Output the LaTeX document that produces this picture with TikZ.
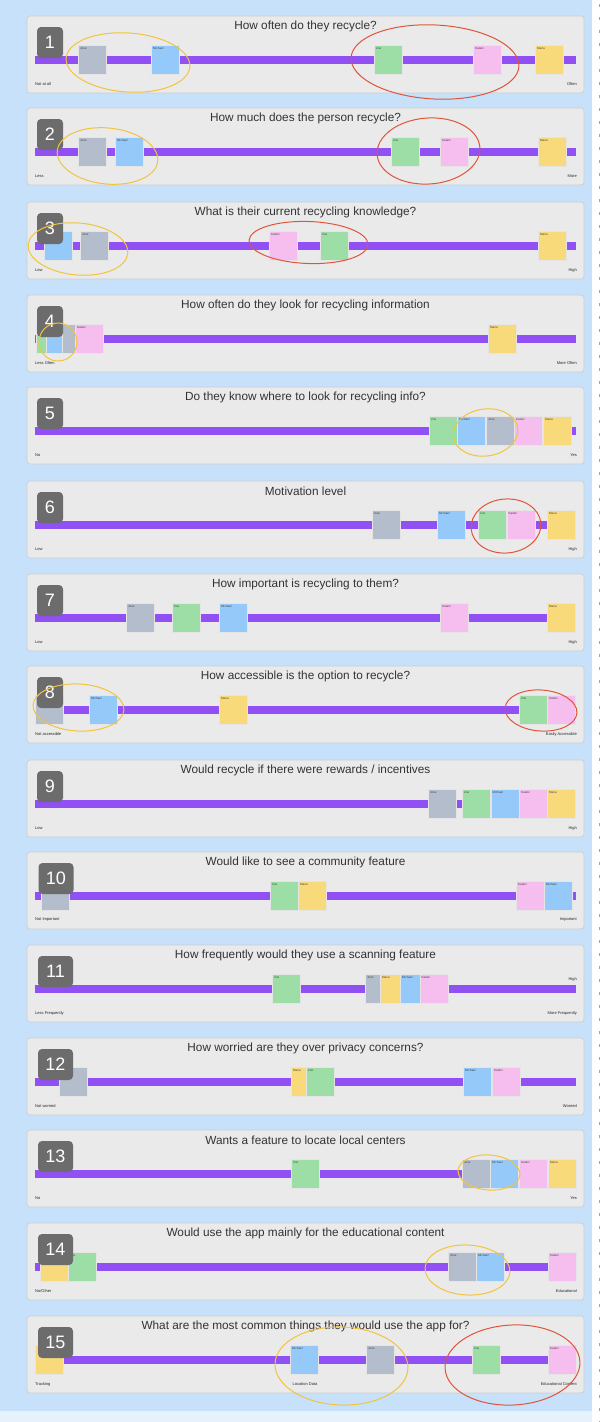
\documentclass[tikz,border=0pt]{standalone}
\usepackage{fontspec}
\setmainfont{Liberation Sans}
\usepackage{tikz}
\usetikzlibrary{shapes.geometric}

\definecolor{bgblue}{HTML}{C6E1F9}
\definecolor{panelgray}{HTML}{EAEAEA}
\definecolor{panelline}{HTML}{C9CCD1}
\definecolor{titlegray}{HTML}{333333}
\definecolor{badgegray}{HTML}{6C6C6C}
\definecolor{barpurple}{HTML}{9150F3}
\definecolor{ngray}{HTML}{B4BDCC}
\definecolor{nblue}{HTML}{94C9FA}
\definecolor{ngreen}{HTML}{9DDEA6}
\definecolor{npink}{HTML}{F5BEEE}
\definecolor{nyellow}{HTML}{F8DA7A}
\definecolor{ringyellow}{HTML}{F2C43C}
\definecolor{ringred}{HTML}{E0553A}

\newcommand{\notefont}{\fontsize{3}{3.5}\selectfont}
\newcommand{\axisfont}{\fontsize{4}{4.5}\selectfont}

\begin{document}
\begin{tikzpicture}[
  x=1pt, y=-1pt,
  panelbox/.style={draw=panelline, fill=panelgray, rounded corners=3pt,
                   minimum width=557pt, minimum height=77pt, inner sep=0pt, line width=0.6pt},
  qtitle/.style={font=\fontsize{11.8}{13}\selectfont, text=titlegray, inner sep=0pt},
  scalebar/.style={fill=barpurple, minimum width=541pt, minimum height=8pt, inner sep=0pt},
  badge/.style={fill=badgegray, rounded corners=4pt, minimum width=26pt, minimum height=31pt,
                inner sep=0pt, text=white, font=\fontsize{18}{18}\selectfont},
  wide/.style={minimum width=35pt},
  note/.style={minimum width=28pt, minimum height=29pt, inner sep=0pt, anchor=west,
               draw=black!10, line width=0.2pt},
  named/.style={label={[anchor=north west, inner sep=2pt, font=\notefont, text=black!75]north west:#1}},
  endlabel/.style={font=\axisfont, text=black!85, inner sep=0pt},
  yring/.style={ellipse, draw=ringyellow, line width=1pt, inner sep=0pt},
  rring/.style={ellipse, draw=ringred, line width=1pt, inner sep=0pt}
]
  \useasboundingbox (0,0) rectangle (606,1422);
  % canvas
  \fill[bgblue] (0,0) rectangle (606,1422);
  \fill[white] (592,0) rectangle (606,1422);
  \draw[black!35, line width=0.5pt, dash pattern=on 3pt off 10pt] (599,4) -- (599,1422);
  \fill[bgblue!45!white] (0,1411) rectangle (592,1422);

  % 1
  \begin{scope}[shift={(0,16)}]
    \node[panelbox] (q1) at (305.5,38.5) {};
    \node[qtitle] (q1t) at (305.5,10) {How often do they recycle?};
    \node[scalebar] (q1bar) at (305.5,44) {};
    \node[note, named=Jose, fill=ngray] (q1jose) at (78,44) {};
    \node[note, named=Michael, fill=nblue] (q1michael) at (151,44) {};
    \node[note, named=Zoe, fill=ngreen] (q1zoe) at (374,44) {};
    \node[note, named=Kalani, fill=npink] (q1kalani) at (473,44) {};
    \node[note, named=Maria, fill=nyellow] (q1maria) at (535,44) {};
    \node[badge] (q1n) at (50,26.5) {1};
    \node[endlabel, anchor=west] (q1lo) at (35,68) {Not at all};
    \node[endlabel, anchor=east] (q1hi) at (577,68) {Often};
    \node[yring, minimum width=124pt, minimum height=59pt, rotate=-4] (q1y) at (128,46.5) {};
    \node[rring, minimum width=168pt, minimum height=74pt, rotate=-3] (q1r) at (435,46) {};
  \end{scope}

  % 2
  \begin{scope}[shift={(0,108)}]
    \node[panelbox] (q2) at (305.5,38.5) {};
    \node[qtitle] (q2t) at (305.5,10) {How much does the person recycle?};
    \node[scalebar] (q2bar) at (305.5,44) {};
    \node[note, named=Jose, fill=ngray] (q2jose) at (78,44) {};
    \node[note, named=Michael, fill=nblue] (q2michael) at (115,44) {};
    \node[note, named=Zoe, fill=ngreen] (q2zoe) at (391,44) {};
    \node[note, named=Kalani, fill=npink] (q2kalani) at (440,44) {};
    \node[note, named=Maria, fill=nyellow] (q2maria) at (538,44) {};
    \node[badge] (q2n) at (50,26.5) {2};
    \node[endlabel, anchor=west] (q2lo) at (35,68) {Less};
    \node[endlabel, anchor=east] (q2hi) at (577,68) {More};
    \node[yring, minimum width=101pt, minimum height=56pt, rotate=-6] (q2y) at (107.5,48) {};
    \node[rring, minimum width=103pt, minimum height=66pt, rotate=4] (q2r) at (428.5,43) {};
  \end{scope}

  % 3
  \begin{scope}[shift={(0,202)}]
    \node[panelbox] (q3) at (305.5,38.5) {};
    \node[qtitle] (q3t) at (305.5,10) {What is their current recycling knowledge?};
    \node[scalebar] (q3bar) at (305.5,44) {};
    \node[note, fill=nblue] (q3michael) at (44,44) {};
    \node[note, named=Jose, fill=ngray] (q3jose) at (80,44) {};
    \node[note, named=Kalani, fill=npink] (q3kalani) at (269,44) {};
    \node[note, named=Zoe, fill=ngreen] (q3zoe) at (320,44) {};
    \node[note, named=Maria, fill=nyellow] (q3maria) at (538,44) {};
    \node[badge] (q3n) at (50,26.5) {3};
    \node[endlabel, anchor=west] (q3lo) at (35,68) {Low};
    \node[endlabel, anchor=east] (q3hi) at (577,68) {High};
    \node[yring, minimum width=100pt, minimum height=52pt, rotate=-5] (q3y) at (78,47) {};
    \node[rring, minimum width=119pt, minimum height=42pt, rotate=-2] (q3r) at (308.5,40.5) {};
  \end{scope}

  % 4
  \begin{scope}[shift={(0,295)}]
    \node[panelbox] (q4) at (305.5,38.5) {};
    \node[qtitle] (q4t) at (305.5,10) {How often do they look for recycling information};
    \node[scalebar] (q4bar) at (305.5,44) {};
    \node[note, fill=ngreen] (q4zoe) at (36,44) {};
    \node[note, fill=nblue] (q4michael) at (46,44) {};
    \node[note, fill=ngray] (q4jose) at (62,44) {};
    \node[note, named=Kalani, fill=npink] (q4kalani) at (75,44) {};
    \node[note, named=Maria, fill=nyellow] (q4maria) at (488,44) {};
    \node[badge] (q4n) at (50,26.5) {4};
    \node[endlabel, anchor=west] (q4lo) at (35,68) {Less Often};
    \node[endlabel, anchor=east] (q4hi) at (577,68) {More Often};
    \node[yring, minimum width=38pt, minimum height=38pt] (q4y) at (58,47) {};
  \end{scope}

  % 5
  \begin{scope}[shift={(0,387)}]
    \node[panelbox] (q5) at (305.5,38.5) {};
    \node[qtitle] (q5t) at (305.5,10) {Do they know where to look for recycling info?};
    \node[scalebar] (q5bar) at (305.5,44) {};
    \node[note, named=Zoe, fill=ngreen] (q5zoe) at (429,44) {};
    \node[note, named=Michael, fill=nblue] (q5michael) at (457,44) {};
    \node[note, named=Jose, fill=ngray] (q5jose) at (486,44) {};
    \node[note, named=Kalani, fill=npink] (q5kalani) at (514,44) {};
    \node[note, named=Maria, fill=nyellow] (q5maria) at (543,44) {};
    \node[badge] (q5n) at (50,26.5) {5};
    \node[endlabel, anchor=west] (q5lo) at (35,68) {No};
    \node[endlabel, anchor=east] (q5hi) at (577,68) {Yes};
    \node[yring, minimum width=65pt, minimum height=47pt, rotate=8] (q5y) at (485.5,45.5) {};
  \end{scope}

  % 6
  \begin{scope}[shift={(0,481)}]
    \node[panelbox] (q6) at (305.5,38.5) {};
    \node[qtitle] (q6t) at (305.5,10) {Motivation level};
    \node[scalebar] (q6bar) at (305.5,44) {};
    \node[note, named=Jose, fill=ngray] (q6jose) at (371.5,44) {};
    \node[note, named=Michael, fill=nblue] (q6michael) at (437,44) {};
    \node[note, named=Zoe, fill=ngreen] (q6zoe) at (478,44) {};
    \node[note, named=Kalani, fill=npink] (q6kalani) at (506.5,44) {};
    \node[note, named=Maria, fill=nyellow] (q6maria) at (547,44) {};
    \node[badge] (q6n) at (50,26.5) {6};
    \node[endlabel, anchor=west] (q6lo) at (35,68) {Low};
    \node[endlabel, anchor=east] (q6hi) at (577,68) {High};
    \node[rring, minimum width=70pt, minimum height=54pt, rotate=5] (q6r) at (506,45) {};
  \end{scope}

  % 7
  \begin{scope}[shift={(0,574)}]
    \node[panelbox] (q7) at (305.5,38.5) {};
    \node[qtitle] (q7t) at (305.5,10) {How important is recycling to them?};
    \node[scalebar] (q7bar) at (305.5,44) {};
    \node[note, named=Jose, fill=ngray] (q7jose) at (126,44) {};
    \node[note, named=Zoe, fill=ngreen] (q7zoe) at (172,44) {};
    \node[note, named=Michael, fill=nblue] (q7michael) at (219,44) {};
    \node[note, named=Kalani, fill=npink] (q7kalani) at (440,44) {};
    \node[note, named=Maria, fill=nyellow] (q7maria) at (547,44) {};
    \node[badge] (q7n) at (50,26.5) {7};
    \node[endlabel, anchor=west] (q7lo) at (35,68) {Low};
    \node[endlabel, anchor=east] (q7hi) at (577,68) {High};
  \end{scope}

  % 8
  \begin{scope}[shift={(0,666)}]
    \node[panelbox] (q8) at (305.5,38.5) {};
    \node[qtitle] (q8t) at (305.5,10) {How accessible is the option to recycle?};
    \node[scalebar] (q8bar) at (305.5,44) {};
    \node[note, fill=ngray] (q8jose) at (35,44) {};
    \node[note, named=Michael, fill=nblue] (q8michael) at (89,44) {};
    \node[note, named=Maria, fill=nyellow] (q8maria) at (219,44) {};
    \node[note, named=Zoe, fill=ngreen] (q8zoe) at (519,44) {};
    \node[note, named=Kalani, fill=npink] (q8kalani) at (547,44) {};
    \node[badge] (q8n) at (50,26.5) {8};
    \node[endlabel, anchor=west] (q8lo) at (35,68) {Not accessible};
    \node[endlabel, anchor=east] (q8hi) at (577,68) {Easily Accessible};
    \node[yring, minimum width=91pt, minimum height=47pt, rotate=-3] (q8y) at (78.5,41.5) {};
    \node[rring, minimum width=72pt, minimum height=41pt, rotate=-4] (q8r) at (541,44.5) {};
  \end{scope}

  % 9
  \begin{scope}[shift={(0,760)}]
    \node[panelbox] (q9) at (305.5,38.5) {};
    \node[qtitle] (q9t) at (305.5,10) {Would recycle if there were rewards / incentives};
    \node[scalebar] (q9bar) at (305.5,44) {};
    \node[note, named=Jose, fill=ngray] (q9jose) at (428,44) {};
    \node[note, named=Zoe, fill=ngreen] (q9zoe) at (462,44) {};
    \node[note, named=Michael, fill=nblue] (q9michael) at (490.5,44) {};
    \node[note, named=Kalani, fill=npink] (q9kalani) at (519,44) {};
    \node[note, named=Maria, fill=nyellow] (q9maria) at (547,44) {};
    \node[badge] (q9n) at (50,26.5) {9};
    \node[endlabel, anchor=west] (q9lo) at (35,68) {Low};
    \node[endlabel, anchor=east] (q9hi) at (577,68) {High};
  \end{scope}

  % 10
  \begin{scope}[shift={(0,852)}]
    \node[panelbox] (q10) at (305.5,38.5) {};
    \node[qtitle] (q10t) at (305.5,10) {Would like to see a community feature};
    \node[scalebar] (q10bar) at (305.5,44) {};
    \node[note, fill=ngray] (q10jose) at (41,44) {};
    \node[note, named=Zoe, fill=ngreen] (q10zoe) at (270,44) {};
    \node[note, named=Maria, fill=nyellow] (q10maria) at (298,44) {};
    \node[note, named=Kalani, fill=npink] (q10kalani) at (516,44) {};
    \node[note, named=Michael, fill=nblue] (q10michael) at (544,44) {};
    \node[badge, wide] (q10n) at (56,26.5) {10};
    \node[endlabel, anchor=west] (q10lo) at (35,68) {Not Important};
    \node[endlabel, anchor=east] (q10hi) at (577,68) {Important};
  \end{scope}

  % 11
  \begin{scope}[shift={(0,945)}]
    \node[panelbox] (q11) at (305.5,38.5) {};
    \node[qtitle] (q11t) at (305.5,10) {How frequently would they use a scanning feature};
    \node[scalebar] (q11bar) at (305.5,44) {};
    \node[note, named=Zoe, fill=ngreen] (q11zoe) at (272,44) {};
    \node[note, named=Jose, fill=ngray] (q11jose) at (365,44) {};
    \node[note, named=Maria, fill=nyellow] (q11maria) at (380,44) {};
    \node[note, named=Michael, fill=nblue] (q11michael) at (400,44) {};
    \node[note, named=Kalani, fill=npink] (q11kalani) at (419.5,44) {};
    \node[badge, wide] (q11n) at (55.5,26.5) {11};
    \node[endlabel, anchor=east] (q11top) at (577,34.5) {High};
    \node[endlabel, anchor=west] (q11lo) at (35,68) {Less Frequently};
    \node[endlabel, anchor=east] (q11hi) at (577,68) {More Frequently};
  \end{scope}

  % 12
  \begin{scope}[shift={(0,1038)}]
    \node[panelbox] (q12) at (305.5,38.5) {};
    \node[qtitle] (q12t) at (305.5,10) {How worried are they over privacy concerns?};
    \node[scalebar] (q12bar) at (305.5,44) {};
    \node[note, fill=ngray] (q12jose) at (59,44) {};
    \node[note, named=Maria, fill=nyellow] (q12maria) at (291,44) {};
    \node[note, named=Zoe, fill=ngreen] (q12zoe) at (306,44) {};
    \node[note, named=Michael, fill=nblue] (q12michael) at (463,44) {};
    \node[note, named=Kalani, fill=npink] (q12kalani) at (492,44) {};
    \node[badge, wide] (q12n) at (55.5,26.5) {12};
    \node[endlabel, anchor=west] (q12lo) at (35,68) {Not worried};
    \node[endlabel, anchor=east] (q12hi) at (577,68) {Worried};
  \end{scope}

  % 13
  \begin{scope}[shift={(0,1130)}]
    \node[panelbox] (q13) at (305.5,38.5) {};
    \node[qtitle] (q13t) at (305.5,10) {Wants a feature to locate local centers};
    \node[scalebar] (q13bar) at (305.5,44) {};
    \node[note, named=Zoe, fill=ngreen] (q13zoe) at (291,44) {};
    \node[note, named=Jose, fill=ngray] (q13jose) at (462,44) {};
    \node[note, named=Michael, fill=nblue] (q13michael) at (490,44) {};
    \node[note, named=Kalani, fill=npink] (q13kalani) at (519,44) {};
    \node[note, named=Maria, fill=nyellow] (q13maria) at (548,44) {};
    \node[badge, wide] (q13n) at (55.5,26.5) {13};
    \node[endlabel, anchor=west] (q13lo) at (35,68) {No};
    \node[endlabel, anchor=east] (q13hi) at (577,68) {Yes};
    \node[yring, minimum width=62pt, minimum height=35pt, rotate=-4] (q13y) at (489,42.5) {};
  \end{scope}

  % 14
  \begin{scope}[shift={(0,1223)}]
    \node[panelbox] (q14) at (305.5,38.5) {};
    \node[qtitle] (q14t) at (305.5,10) {Would use the app mainly for the educational content};
    \node[scalebar] (q14bar) at (305.5,44) {};
    \node[note, fill=nyellow] (q14maria) at (40,44) {};
    \node[note, named=Zoe, fill=ngreen] (q14zoe) at (68,44) {};
    \node[note, named=Jose, fill=ngray] (q14jose) at (448,44) {};
    \node[note, named=Michael, fill=nblue] (q14michael) at (476,44) {};
    \node[note, named=Kalani, fill=npink] (q14kalani) at (548,44) {};
    \node[badge, wide] (q14n) at (55.5,26.5) {14};
    \node[endlabel, anchor=west] (q14lo) at (35,68) {No/Other};
    \node[endlabel, anchor=east] (q14hi) at (577,68) {Educational};
    \node[yring, minimum width=85pt, minimum height=50pt, rotate=-3] (q14y) at (467.5,47) {};
  \end{scope}

  % 15
  \begin{scope}[shift={(0,1316)}]
    \node[panelbox] (q15) at (305.5,38.5) {};
    \node[qtitle] (q15t) at (305.5,10) {What are the most common things they would use the app for?};
    \node[scalebar] (q15bar) at (305.5,44) {};
    \node[note, fill=nyellow] (q15maria) at (35,44) {};
    \node[note, named=Michael, fill=nblue] (q15michael) at (290,44) {};
    \node[note, named=Jose, fill=ngray] (q15jose) at (366,44) {};
    \node[note, named=Zoe, fill=ngreen] (q15zoe) at (472,44) {};
    \node[note, named=Kalani, fill=npink] (q15kalani) at (548,44) {};
    \node[badge, wide] (q15n) at (55.5,26.5) {15};
    \node[endlabel, anchor=west] (q15lo) at (35,68) {Tracking};
    \node[endlabel] (q15mid) at (305,68) {Location Data};
    \node[endlabel, anchor=east] (q15hi) at (577,68) {Educational Content};
    \node[yring, minimum width=133pt, minimum height=78pt, rotate=-2] (q15y) at (341.5,50) {};
    \node[rring, minimum width=135pt, minimum height=80pt, rotate=3] (q15r) at (512.5,49) {};
  \end{scope}
\end{tikzpicture}
\end{document}
